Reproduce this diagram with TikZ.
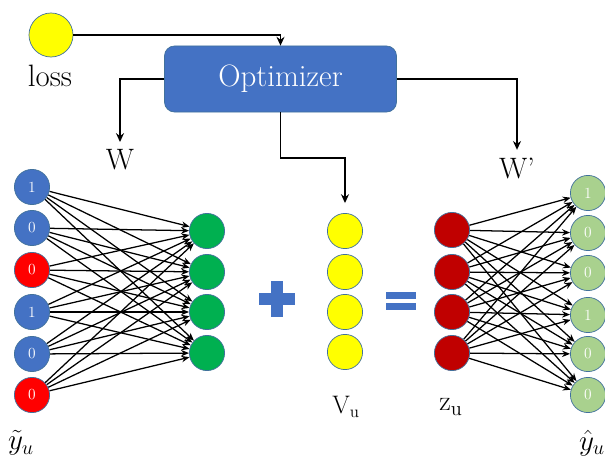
\documentclass[tikz,border=0pt]{standalone}
\usepackage{amsmath}
\usepackage{tikz}
\usetikzlibrary{arrows.meta}
\pgfdeclarelayer{bg}
\pgfsetlayers{bg,main}
\definecolor{nblue}{HTML}{4472C4}
\definecolor{nred}{HTML}{FF0000}
\definecolor{ngreen}{HTML}{00B050}
\definecolor{nyellow}{HTML}{FFFF00}
\definecolor{ndark}{HTML}{C00000}
\definecolor{nlight}{HTML}{A9D18E}
\definecolor{nedge}{HTML}{41719C}
\tikzset{
    neuron/.style={circle, inner sep=0mm, draw=nedge, line width=0.5pt, minimum size=8.8mm,
        text=white, font=\fontsize{11}{13}\selectfont},
    lbl/.style={inner sep=1pt, font=\fontsize{21}{24}\selectfont},
    flow/.style={-{Stealth[length=2.2mm,width=2mm]}, line width=1.2pt},
    wire/.style={-{Stealth[length=2mm,width=1.6mm]}, line width=0.9pt}
}

\begin{document}
\begin{tikzpicture}[x=0.025cm, y=-0.025cm]
    \useasboundingbox (0,0) rectangle (605,458);

    \node (loss) [neuron, fill=nyellow, minimum size=11mm] at (51,35) {};
    \node (lossl) [lbl, font=\fontsize{22}{25}\selectfont] at (50,76) {loss};
    \node (opt) [rectangle, rounded corners=2.5mm, fill=nblue, draw=nedge, line width=0.5pt,
        minimum width=5.8cm, minimum height=1.65cm, text=white,
        font=\fontsize{22}{25}\selectfont] at (280.5,79) {Optimizer};
    \node (w) [lbl] at (120,160) {W};
    \node (wp) [lbl] at (517,168) {W'};

    % input column
    \node (l1) [neuron, fill=nblue] at (32,187) {1};
    \node (l2) [neuron, fill=nblue] at (32,228) {0};
    \node (l3) [neuron, fill=nred] at (32,270) {0};
    \node (l4) [neuron, fill=nblue] at (32,312) {1};
    \node (l5) [neuron, fill=nblue] at (32,354) {0};
    \node (l6) [neuron, fill=nred] at (32,395) {0};

    \node (g1) [neuron, fill=ngreen] at (207,231) {};
    \node (g2) [neuron, fill=ngreen] at (207,272) {};
    \node (g3) [neuron, fill=ngreen] at (207,312) {};
    \node (g4) [neuron, fill=ngreen] at (207,353) {};

    \node (v1) [neuron, fill=nyellow] at (345,231) {};
    \node (v2) [neuron, fill=nyellow] at (345,272) {};
    \node (v3) [neuron, fill=nyellow] at (345,312) {};
    \node (v4) [neuron, fill=nyellow] at (345,352) {};

    \node (z1) [neuron, fill=ndark] at (452,230) {};
    \node (z2) [neuron, fill=ndark] at (452,272) {};
    \node (z3) [neuron, fill=ndark] at (452,312) {};
    \node (z4) [neuron, fill=ndark] at (452,353) {};

    % output column
    \node (r1) [neuron, fill=nlight] at (588,193) {1};
    \node (r2) [neuron, fill=nlight] at (588,233) {0};
    \node (r3) [neuron, fill=nlight] at (588,273) {0};
    \node (r4) [neuron, fill=nlight] at (588,315) {1};
    \node (r5) [neuron, fill=nlight] at (588,354) {0};
    \node (r6) [neuron, fill=nlight] at (588,395) {0};

    \node (vu) [lbl, font=\fontsize{18}{21}\selectfont] at (346,407) {V$_{\mathrm{u}}$};
    \node (zu) [lbl, font=\fontsize{20}{23}\selectfont] at (451,407) {z$_{\mathrm{u}}$};
    \node (yt) [lbl] at (21,443) {$\tilde{y}_u$};
    \node (yh) [lbl] at (592,443) {$\hat{y}_u$};

    % plus and equals
    \fill[nblue] (259,293) rectangle (295,305);
    \fill[nblue] (271,281) rectangle (283,317);
    \fill[nblue] (386,292) rectangle (416,299);
    \fill[nblue] (386,303) rectangle (416,310);

    \coordinate (bend) at (345,158);
    \draw[flow] (loss.east) -| (opt.north);
    \draw[flow, shorten >=1.5mm] (opt.west) -| (w.north);
    \draw[flow, shorten >=1.5mm] (opt.east) -| (wp.north);
    \draw[flow, shorten >=2.5mm] (opt.south) |- (bend) -- (v1.north);

    \begin{pgfonlayer}{bg}
        \foreach \i in {1,...,6}
            \foreach \j in {1,...,4}
                \draw[wire] (l\i) -- (g\j);
        \foreach \i in {1,...,4}
            \foreach \j in {1,...,6}
                \draw[wire] (z\i) -- (r\j);
    \end{pgfonlayer}
\end{tikzpicture}
\end{document}
